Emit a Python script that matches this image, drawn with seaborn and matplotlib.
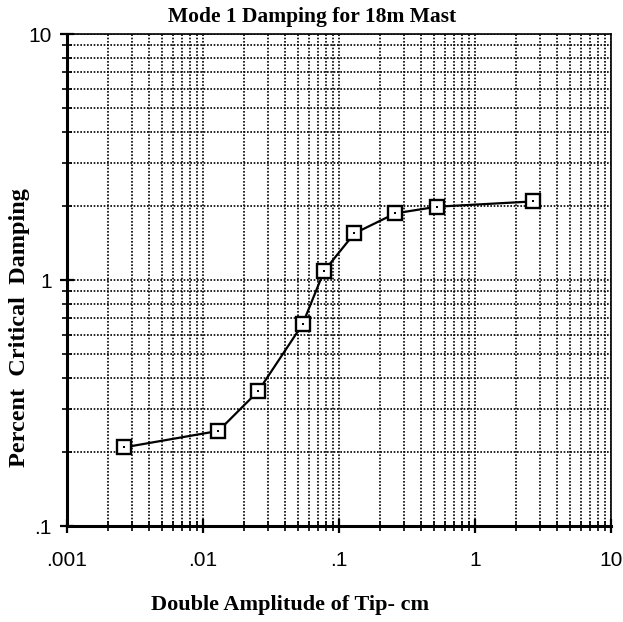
import matplotlib
matplotlib.use("Agg")
import matplotlib.pyplot as plt
import matplotlib.ticker as mticker
import seaborn as sns
import pandas as pd
import numpy as np

# Data
amplitude_cm = [0.00261, 0.0130, 0.0255, 0.054, 0.0778, 0.130, 0.260, 0.528, 2.66]
damping_pct = [0.209, 0.244, 0.354, 0.662, 1.09, 1.55, 1.87, 1.99, 2.09]
x_ticks = [0.001, 0.01, 0.1, 1, 10]
x_tick_labels = [".001", ".01", ".1", "1", "10"]
y_ticks = [0.1, 1, 10]
y_tick_labels = [".1", "1", "10"]

df = pd.DataFrame({"amp": amplitude_cm, "damp": damping_pct})

sns.set_style("white")
plt.rcParams["font.family"] = ["Liberation Serif", "DejaVu Serif"]

fig = plt.figure(figsize=(6.23, 6.22), dpi=100)
ax = fig.add_axes([0.1075, 0.154, 0.873, 0.791])

sns.lineplot(data=df, x="amp", y="damp", ax=ax, color="black", lw=1.6,
             marker="s", markersize=10, markerfacecolor="white",
             markeredgecolor="black", markeredgewidth=1.7, zorder=5)
sns.scatterplot(data=df, x="amp", y="damp", ax=ax, color="black", s=4,
                marker="s", linewidth=0, zorder=6)

ax.set_xscale("log")
ax.set_yscale("log")
ax.set_xlim(0.001, 10)
ax.set_ylim(0.1, 10)
ax.set_xlabel("")
ax.set_ylabel("")

ax.xaxis.set_major_locator(mticker.FixedLocator(x_ticks))
ax.xaxis.set_major_formatter(mticker.FixedFormatter(x_tick_labels))
ax.yaxis.set_major_locator(mticker.FixedLocator(y_ticks))
ax.yaxis.set_major_formatter(mticker.FixedFormatter(y_tick_labels))
ax.xaxis.set_minor_locator(mticker.LogLocator(base=10, subs=np.arange(2, 10)))
ax.yaxis.set_minor_locator(mticker.LogLocator(base=10, subs=np.arange(2, 10)))
ax.xaxis.set_minor_formatter(mticker.NullFormatter())
ax.yaxis.set_minor_formatter(mticker.NullFormatter())

ax.grid(True, which="both", color="black", linestyle=(0, (1, 1)), lw=1.2)
ax.set_axisbelow(True)

for s in ax.spines.values():
    s.set_color("black")
    s.set_linewidth(1.2)
ax.spines["left"].set_linewidth(2.2)
ax.spines["bottom"].set_linewidth(2.2)

ax.tick_params(axis="both", which="both", bottom=True, left=True)
ax.tick_params(axis="both", which="major", direction="inout", length=10, width=1.6,
               color="black", labelsize=15, pad=6)
ax.tick_params(axis="both", which="minor", direction="inout", length=7, width=1.2,
               color="black")
for lab in ax.get_xticklabels() + ax.get_yticklabels():
    lab.set_fontfamily(["Liberation Sans", "DejaVu Sans"])
    lab.set_color("black")
ax.tick_params(axis="x", which="major", pad=13)

fig.text(312 / 623, 1 - 17 / 622, "Mode 1 Damping for 18m Mast", fontsize=15.5,
         fontweight="bold", ha="center", va="center", color="black")
fig.text(290 / 623, 1 - 605 / 622, "Double Amplitude of Tip- cm", fontsize=16,
         fontweight="bold", ha="center", va="center", color="black")
fig.text(20 / 623, 1 - 328 / 622, "Percent  Critical  Damping", fontsize=17.5,
         fontweight="bold", ha="center", va="center", rotation=90, color="black")

fig.savefig("out.png", dpi=100)
